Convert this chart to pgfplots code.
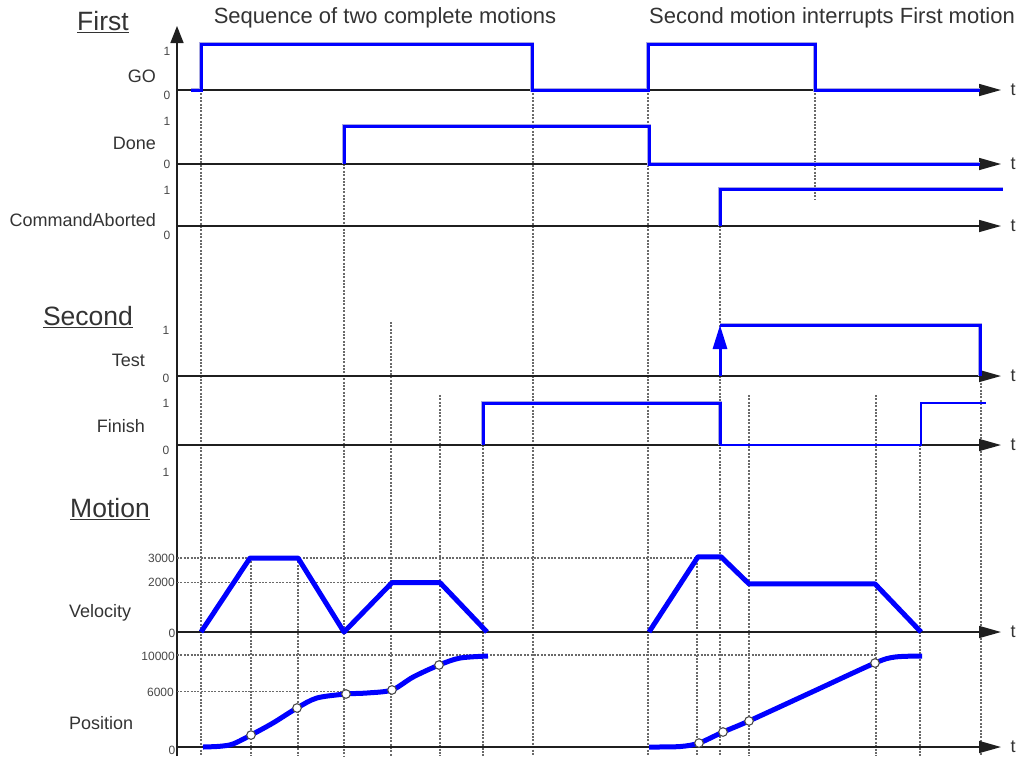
\documentclass[border=0pt]{standalone}
\usepackage{pgfplots}
\pgfplotsset{compat=1.18}
\usetikzlibrary{arrows.meta}
\usepackage{fontspec}
\setmainfont{Liberation Sans}
\definecolor{txt}{HTML}{333333}
\definecolor{guidecol}{HTML}{6A6A6A}
\definecolor{sigblue}{HTML}{0000FF}
\definecolor{halo}{HTML}{A8A8E0}
\pgfplotsset{
  panel/.style={x=1pt, xmin=177, xmax=1000, ymin=0, ymax=1, hide axis, clip=false, anchor=south west},
}
\tikzset{
  base/.style={line width=1.5pt, black!88, -{Triangle[length=22pt,width=12pt]}},
  guide/.style={guidecol, line width=1.1pt, dash pattern=on 2pt off 1.4pt},
  sigline/.style={sigblue, line width=3pt, line join=miter, preaction={draw=halo, line width=4.6pt}},
  plainsig/.style={sigblue, line width=3pt},
  thinsig/.style={sigblue, line width=1.4pt},
  motion/.style={sigblue, line width=5pt, line join=round},
  lab/.style={text=txt, font=\fontsize{18}{20}\selectfont, inner sep=0pt},
  tick/.style={text=txt!90, font=\fontsize{12}{13}\selectfont, inner sep=0pt},
  head/.style={text=txt, font=\fontsize{26.5}{30}\selectfont, inner sep=0pt},
  ttl/.style={text=txt, font=\fontsize{22}{25}\selectfont, inner sep=0pt},
}
\begin{document}
\begin{tikzpicture}[x=1pt,y=1pt]
\useasboundingbox (0,0) rectangle (1017,-756);
% ---------- frame: guides, vertical axis and texts ----------
\begin{axis}[x=1pt, y=1pt, xmin=0, xmax=1017, ymin=-756, ymax=0, hide axis, clip=false,
  anchor=south west, at={(0pt,-756pt)}]
\addplot[guide] coordinates {(201,-90) (201,-756)};
\addplot[guide] coordinates {(344,-164) (344,-756)};
\addplot[guide] coordinates {(391,-322) (391,-756)};
\addplot[guide] coordinates {(440,-395) (440,-756)};
\addplot[guide] coordinates {(483,-445) (483,-756)};
\addplot[guide] coordinates {(533,-90) (533,-756)};
\addplot[guide] coordinates {(648,-90) (648,-756)};
\addplot[guide] coordinates {(815,-90) (815,-200)};
\addplot[guide] coordinates {(720,-226) (720,-756)};
\addplot[guide] coordinates {(749,-395) (749,-756)};
\addplot[guide] coordinates {(876,-395) (876,-756)};
\addplot[guide] coordinates {(920,-445) (920,-756)};
\addplot[guide] coordinates {(981,-376) (981,-756)};
\addplot[guide] coordinates {(251,-558) (251,-756)};
\addplot[guide] coordinates {(298,-558) (298,-756)};
\addplot[guide] coordinates {(697,-556) (697,-756)};
\draw[line width=1.5pt, black!88, -{Triangle[length=17pt,width=13pt]}] (axis cs:177,-756) -- (axis cs:177,-26);
% headings
\node[head] at (axis cs:103,-22) {\underline{First}};
\node[head] at (axis cs:88,-317) {\underline{Second}};
\node[head] at (axis cs:110,-509) {\underline{Motion}};
\node[ttl] at (axis cs:385,-18) {Sequence of two complete motions};
\node[ttl, anchor=east] at (axis cs:1015,-18) {Second motion interrupts First motion};
% signal names
\node[lab, anchor=east] at (axis cs:156,-76) {GO};
\node[lab, anchor=east] at (axis cs:156,-143) {Done};
\node[lab, anchor=east] at (axis cs:156,-220) {CommandAborted};
\node[lab, anchor=east] at (axis cs:145,-360) {Test};
\node[lab, anchor=east] at (axis cs:145,-426) {Finish};
\node[lab, anchor=west] at (axis cs:69,-613) {Velocity};
\node[lab, anchor=west] at (axis cs:69,-723) {Position};
% level labels
\node[tick] at (axis cs:167,-51) {1};
\node[tick] at (axis cs:167,-95) {0};
\node[tick] at (axis cs:167,-121) {1};
\node[tick] at (axis cs:167,-164) {0};
\node[tick] at (axis cs:167,-190) {1};
\node[tick] at (axis cs:167,-235) {0};
\node[tick] at (axis cs:166,-330) {1};
\node[tick] at (axis cs:166,-378) {0};
\node[tick] at (axis cs:166,-403) {1};
\node[tick] at (axis cs:166,-450) {0};
\node[tick] at (axis cs:166,-472) {1};
\node[tick, anchor=east] at (axis cs:175,-558) {3000};
\node[tick, anchor=east] at (axis cs:175,-582) {2000};
\node[tick] at (axis cs:172,-633) {0};
\node[tick, anchor=east] at (axis cs:175,-656) {10000};
\node[tick, anchor=east] at (axis cs:174,-692) {6000};
\node[tick] at (axis cs:172,-750) {0};
\end{axis}
% ---------- GO ----------
\begin{axis}[panel, y=46pt, at={(177pt,-90pt)}]
\draw[base] (axis cs:177,0) -- (axis cs:1001,0);
\node[lab] at (axis cs:1013,0) {t};
\addplot[sigline] coordinates {(191,0) (201,0) (201,1) (532,1) (532,0) (648,0) (648,1) (815,1) (815,0) (980,0)};
\end{axis}
% ---------- Done ----------
\begin{axis}[panel, y=38pt, at={(177pt,-164pt)}]
\draw[base] (axis cs:177,0) -- (axis cs:1001,0);
\node[lab] at (axis cs:1013,0) {t};
\addplot[sigline] coordinates {(344,0) (344,1) (649,1) (649,0) (980,0)};
\end{axis}
% ---------- CommandAborted ----------
\begin{axis}[panel, y=37pt, at={(177pt,-226pt)}]
\draw[base] (axis cs:177,0) -- (axis cs:1001,0);
\node[lab] at (axis cs:1013,0) {t};
\addplot[sigline] coordinates {(720,0) (720,1) (1003,1)};
\end{axis}
% ---------- Test ----------
\begin{axis}[panel, y=51pt, at={(177pt,-376pt)}]
\draw[base] (axis cs:177,0) -- (axis cs:1001,0);
\node[lab] at (axis cs:1013,0) {t};
\addplot[sigline] coordinates {(720,1) (980,1) (980,0)};
\addplot[plainsig, -{Triangle[length=24pt,width=14pt]}] coordinates {(720,0) (720,1)};
\end{axis}
% ---------- Finish ----------
\begin{axis}[panel, y=42pt, at={(177pt,-445pt)}]
\draw[base] (axis cs:177,0) -- (axis cs:1001,0);
\node[lab] at (axis cs:1013,0) {t};
\addplot[sigline] coordinates {(483,0) (483,1) (720,1) (720,0)};
\addplot[thinsig] coordinates {(720,0) (921,0) (921,1) (986,1)};
\end{axis}
% ---------- Velocity ----------
\begin{axis}[panel, y=0.024667pt, ymax=3000, at={(177pt,-632pt)}]
\addplot[guide] coordinates {(177,3000) (697,3000)};
\addplot[guide] coordinates {(177,2000) (392,2000)};
\draw[base] (axis cs:177,0) -- (axis cs:1001,0);
\node[lab] at (axis cs:1013,0) {t};
\addplot[motion] coordinates {(201,0) (250,3000) (298,3000) (344,0) (392,2000) (440,2000) (487,0)};
\addplot[motion] coordinates {(649,0) (698,3050) (721,3050) (749,1950) (875,1950) (921,0)};
\end{axis}
% ---------- Position ----------
\begin{axis}[panel, y=0.0092pt, ymax=10000, at={(177pt,-747pt)}]
\addplot[guide] coordinates {(177,10000) (877,10000)};
\addplot[guide] coordinates {(177,6000) (392,6000)};
\draw[base] (axis cs:177,0) -- (axis cs:1001,0);
\node[lab] at (axis cs:1013,0) {t};
\addplot[motion, smooth] coordinates {(203,0) (220,80) (233,330) (251,1300) (273,2610) (297,4240) (317,5330) (346,5760) (367,5870) (392,6200) (413,7600) (439,8910) (460,9670) (488,9890)};
\addplot[motion, smooth] coordinates {(649,0) (680,50) (699,430) (723,1630) (749,2830) (812,5980) (875,9130) (895,9780) (922,9890)};
\addplot[only marks, mark=*, mark size=4.3pt, mark options={fill=white, draw=black!70, line width=1.1pt}] coordinates {(251,1300) (297,4240) (346,5760) (392,6200) (439,8910) (699,430) (723,1630) (749,2830) (875,9130)};
\end{axis}
\end{tikzpicture}
\end{document}
